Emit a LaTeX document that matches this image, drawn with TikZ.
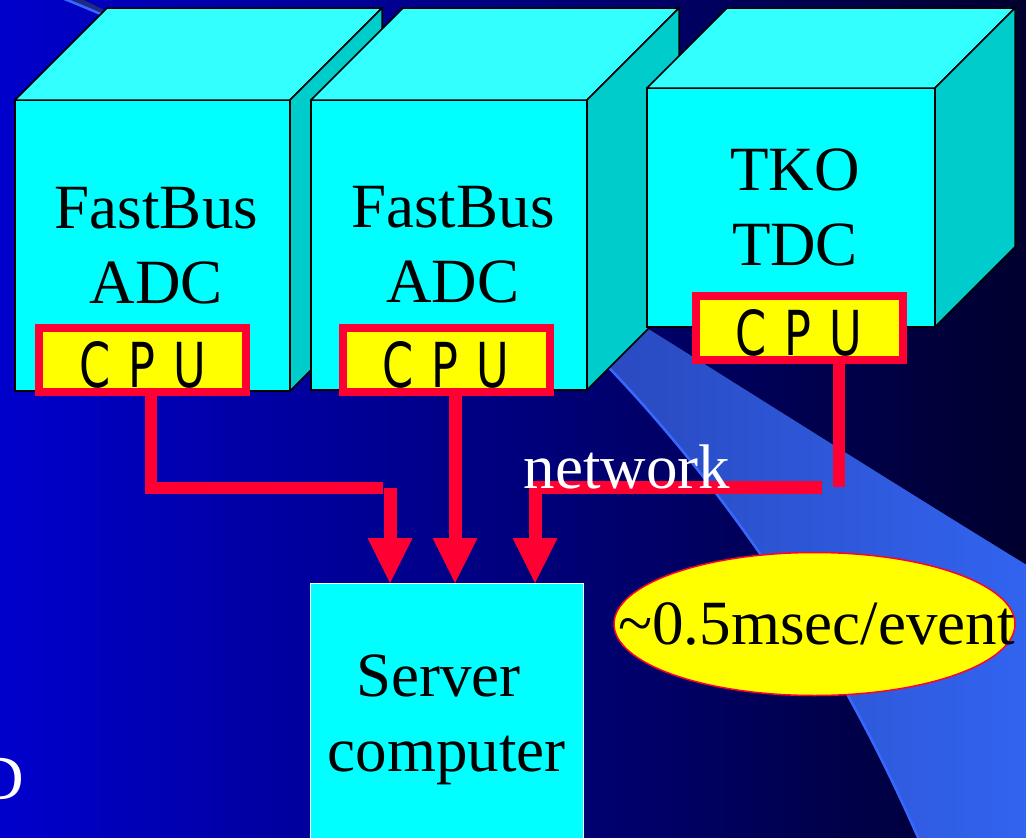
\documentclass[tikz,border=0pt]{standalone}
\usepackage{fontspec}
\setmainfont{Liberation Serif}
\newfontfamily\cpufont[FakeStretch=0.72]{DejaVu Sans}
\usetikzlibrary{arrows.meta,shapes.geometric,calc}

\definecolor{bgleft}{RGB}{0,0,204}
\definecolor{bgright}{RGB}{0,0,46}
\definecolor{bandleft}{RGB}{30,40,130}
\definecolor{bandright}{RGB}{50,100,240}
\definecolor{bandedge}{RGB}{55,105,255}
\definecolor{cubefront}{RGB}{0,255,255}
\definecolor{cubetop}{RGB}{51,255,255}
\definecolor{cubeside}{RGB}{0,204,204}
\definecolor{wire}{RGB}{255,0,51}
\definecolor{chip}{RGB}{255,255,0}

\newcommand{\crateline}[1]{\hspace*{8pt}#1}

\tikzset{
  big/.style={font=\fontsize{63}{75}\selectfont},
  front/.style={draw=black, line width=1.5pt, fill=cubefront, inner sep=0pt,
    outer sep=0pt, align=center, big, anchor=north west},
  topface/.style={draw=black, line width=1.5pt, fill=cubetop, line join=round},
  sideface/.style={draw=black, line width=1.5pt, fill=cubeside, line join=round},
  cpubox/.style={draw=wire, line width=8pt, fill=chip, minimum width=207pt,
    minimum height=64pt, inner sep=0pt, text height=55pt, text depth=0pt,
    font=\cpufont\fontsize{62}{62}\selectfont},
  wireline/.style={draw=wire, line width=12pt, line join=miter},
  feed/.style={draw=wire, line width=13pt, line join=miter,
    -{Triangle[length=45pt,width=45pt,line width=0pt]}},
}

\begin{document}
\begin{tikzpicture}[x=1pt,y=-1pt]
\useasboundingbox (0,0) rectangle (1026,838);
\clip (0,0) rectangle (1026,838);

% background
\fill[left color=bgleft,right color=bgright] (0,0) rectangle (1026,838);

% sweeping light band behind the crates
\fill[left color=bandleft,right color=bandright]
  (62,-2) .. controls (412,138) and (731,409) .. (920,842)
  -- (1030,842) -- (1030,567)
  .. controls (700,365) and (300,100) .. (75,-4) -- cycle;
\draw[bandedge, line width=2.5pt]
  (62,-2) .. controls (412,138) and (731,409) .. (920,842);

% crate 1
\node[front, minimum width=275pt, minimum height=291pt] (f1) at (15,100)
  {\crateline{FastBus}\\\crateline{ADC}};
\path[topface] (f1.north west) -- ++(92,-92) -- ++(275,0) -- (f1.north east) -- cycle;
\path[sideface] (f1.north east) -- ++(92,-92) -- ++(0,291) -- (f1.south east) -- cycle;

% crate 2
\node[front, minimum width=276pt, minimum height=290pt] (f2) at (311,100)
  {\crateline{FastBus}\\\crateline{ADC}};
\path[topface] (f2.north west) -- ++(92,-92) -- ++(276,0) -- (f2.north east) -- cycle;
\path[sideface] (f2.north east) -- ++(92,-92) -- ++(0,290) -- (f2.south east) -- cycle;

% crate 3
\node[front, minimum width=288pt, minimum height=239pt] (f3) at (647,88)
  {\crateline{TKO}\\\crateline{TDC}};
\path[topface] (f3.north west) -- ++(80,-80) -- ++(288,0) -- (f3.north east) -- cycle;
\path[sideface] (f3.north east) -- ++(80,-80) -- ++(0,239) -- (f3.south east) -- cycle;

% processors
\node[cpubox] (cpu1) at (142.5,359.5) {C\hspace{18pt}P\hspace{18pt}U};
\node[cpubox] (cpu2) at (446,360) {C\hspace{18pt}P\hspace{18pt}U};
\node[cpubox] (cpu3) at (799,327.5) {C\hspace{18pt}P\hspace{18pt}U};

% server
\node[draw=white, line width=1pt, fill=cubefront, minimum width=273pt,
  minimum height=274pt, anchor=north west, inner sep=0pt, outer sep=0pt,
  align=center, big] (server) at (310,583) {\mbox{Server\hspace{16pt}}\\computer};

% links
\coordinate (k1) at (151,487.5);
\coordinate (k1e) at (383,487.5);
\draw[wireline] (cpu1.south -| k1) -- (k1) -- (k1e);
\coordinate (j1) at (390,488);
\draw[feed] (j1) -- (server.north -| j1);

\coordinate (k2) at (455,400);
\draw[feed] (cpu2.south -| k2) -- (server.north -| k2);

\coordinate (k3) at (838.5,487);
\draw[wireline] (cpu3.south -| k3) -- (k3);
\coordinate (k3e) at (822,487.5);
\coordinate (k3c) at (535,487.5);
\draw[feed] (k3e) -- (k3c) -- (server.north -| k3c);

% labels
\node[big, text=white, anchor=base, inner sep=0pt] (net) at (627,488) {network};
\node[ellipse, draw=wire, line width=1.5pt, fill=chip, minimum width=401pt,
  minimum height=143pt, inner sep=0pt, big] (lat) at (814.5,624)
  {\makebox[0pt]{\hspace*{4pt}\textasciitilde 0.5msec/event}};
\node[big, text=white, anchor=base east, inner sep=0pt] (dd) at (24,799) {D};
\end{tikzpicture}
\end{document}
